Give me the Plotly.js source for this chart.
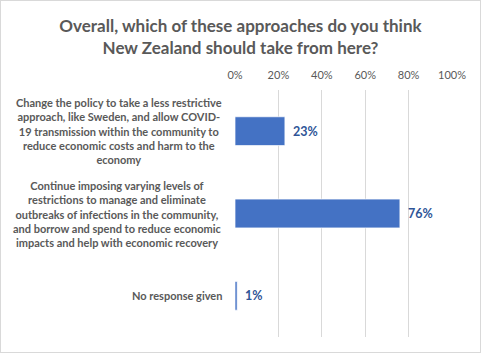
<!DOCTYPE html>
<html>
<head>
<meta charset="utf-8">
<script src="https://cdn.plot.ly/plotly-3.0.1.min.js"></script>
<style>
  html, body { margin: 0; padding: 0; background: #fff; }
  #chart { width: 479px; height: 351px; border: 1px solid #D9D9D9; }
</style>
</head>
<body>
<div id="chart"></div>
<script>
const categories = [
  "Change the policy to take a less restrictive<br>approach, like Sweden, and allow COVID-<br>19 transmission within the community to<br>reduce economic costs and harm to the<br>economy",
  "Continue imposing varying levels of<br>restrictions to manage and eliminate<br>outbreaks of infections in the community,<br>and borrow and spend to reduce economic<br>impacts and help with economic recovery",
  "No response given"
];
const values = [0.23, 0.76, 0.01];
const valueLabels = ["23%", "76%", "1%"];
const tickVals = [0, 0.2, 0.4, 0.6, 0.8, 1.0];
const tickText = ["0%", "20%", "40%", "60%", "80%", "100%"];

const FONT = "Lato, 'Open Sans', sans-serif";
const catIdx = categories.map((c, i) => i);

const trace = {
  type: "bar",
  orientation: "h",
  x: values,
  y: catIdx,
  width: 0.35,
  marker: { color: "#4472C4", line: { color: "rgba(255,255,255,0.7)", width: 1 } },
  hoverinfo: "skip"
};

const annotations = [];
categories.forEach((c, i) => {
  annotations.push({
    text: c, xref: "paper", x: -0.05, xanchor: "right",
    yref: "y", y: i, yanchor: "middle", align: "center",
    showarrow: false,
    font: { family: FONT, size: 11, color: "#595959", weight: "bold" }
  });
  annotations.push({
    text: valueLabels[i], xref: "x", x: values[i], xanchor: "left", xshift: 6,
    yref: "y", y: i, yanchor: "middle", showarrow: false,
    font: { family: FONT, size: 12.5, color: "#2F5597", weight: "bold" }
  });
});

const layout = {
  width: 479, height: 351,
  margin: { l: 234, r: 28, t: 89, b: 15, pad: 0 },
  paper_bgcolor: "#ffffff", plot_bgcolor: "#ffffff",
  showlegend: false,
  title: {
    text: "Overall, which of these approaches do you think<br>New Zealand should take from here?",
    x: 0.5, xanchor: "center", xref: "container",
    y: 0.911, yanchor: "middle", yref: "container",
    font: { family: FONT, size: 17, color: "#595959", weight: "bold" }
  },
  xaxis: {
    side: "top", range: [0, 1], tickvals: tickVals, ticktext: tickText,
    showgrid: true, gridcolor: "#D9D9D9", gridwidth: 1,
    zeroline: false, showline: false, ticks: "",
    ticklabelstandoff: 8,
    tickfont: { family: FONT, size: 11, color: "#595959" },
    fixedrange: true
  },
  yaxis: {
    range: [2.5, -0.5], showticklabels: false, showgrid: false,
    zeroline: false, showline: false, ticks: "", fixedrange: true
  },
  annotations: annotations
};

Plotly.newPlot("chart", [trace], layout, { displayModeBar: false, staticPlot: true });
</script>
</body>
</html>
